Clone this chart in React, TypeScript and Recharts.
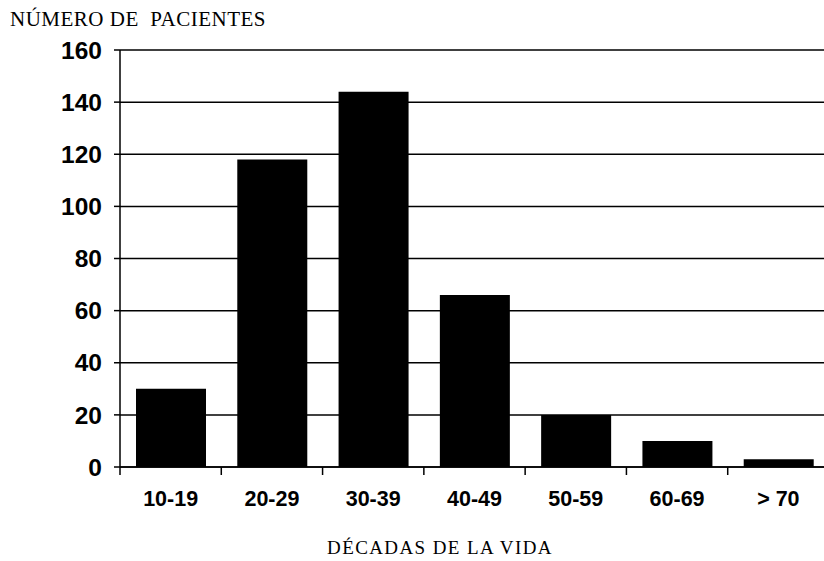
import * as React from 'react';
import { BarChart, Bar, XAxis, YAxis, CartesianGrid } from 'recharts';

const decades = ['10-19', '20-29', '30-39', '40-49', '50-59', '60-69', '> 70'];
const patients = [30, 118, 144, 66, 20, 10, 3];
const yTicks = [0, 20, 40, 60, 80, 100, 120, 140, 160];

const data = decades.map((d, i) => ({ decade: d, pacientes: patients[i] }));

const CHART_W = 840;
const CHART_H = 561;
const YAXIS_W = 120;
const MARGIN = { top: 50, right: 11, left: 0, bottom: 0 };
const HALF_BAND = (CHART_W - MARGIN.right - MARGIN.left - YAXIS_W) / decades.length / 2;

const serif = '"Liberation Serif", "DejaVu Serif", serif';
const sans = '"Liberation Sans", Arial, sans-serif';

function DecadeTick(props: any) {
	const { x, y, payload, index } = props;
	const last = index === decades.length - 1;
	return (
		<g>
			<line x1={x - HALF_BAND} y1={y - 8} x2={x - HALF_BAND} y2={y} stroke='#000' strokeWidth={1.5} />
			{last && <line x1={x + HALF_BAND} y1={y - 8} x2={x + HALF_BAND} y2={y} stroke='#000' strokeWidth={1.5} />}
			<text x={x} y={y + 30.5} textAnchor='middle' fontFamily={sans} fontWeight='bold' fontSize={21.5} fill='#000'>
				{payload.value}
			</text>
		</g>
	);
}

export default function App() {
	return (
		<div
			style={{
				position: 'absolute',
				left: 0,
				top: 0,
				width: 824,
				height: 561,
				overflow: 'hidden',
				background: '#fff',
			}}
		>
			<div
				style={{
					position: 'absolute',
					left: 10,
					top: 7,
					fontFamily: serif,
					fontSize: 21,
					lineHeight: '24px',
					letterSpacing: 0.5,
					color: '#000',
					whiteSpace: 'pre',
				}}
			>
				{'NÚMERO DE  PACIENTES'}
			</div>
			<BarChart width={CHART_W} height={CHART_H} data={data} margin={MARGIN} barSize={70}>
				<CartesianGrid vertical={false} stroke='#000' strokeWidth={1.5} />
				<XAxis
					dataKey='decade'
					height={94}
					axisLine={{ stroke: '#000', strokeWidth: 1.5 }}
					tickLine={false}
					tickSize={8}
					tickMargin={0}
					interval={0}
					tick={<DecadeTick />}
				/>
				<YAxis
					width={YAXIS_W}
					domain={[0, 160]}
					ticks={yTicks}
					interval={0}
					axisLine={{ stroke: '#000', strokeWidth: 1.5 }}
					tickLine={{ stroke: '#000', strokeWidth: 1.5 }}
					tickSize={6}
					tickMargin={12}
					tick={{ fill: '#000', fontFamily: sans, fontWeight: 'bold', fontSize: 24.5 }}
				/>
				<Bar dataKey='pacientes' fill='#000' isAnimationActive={false} />
			</BarChart>
			<div
				style={{
					position: 'absolute',
					left: 0,
					width: 880,
					top: 537,
					textAlign: 'center',
					fontFamily: serif,
					fontSize: 19,
					lineHeight: '22px',
					letterSpacing: 1.4,
					color: '#000',
					whiteSpace: 'nowrap',
				}}
			>
				DÉCADAS DE LA VIDA
			</div>
		</div>
	);
}
